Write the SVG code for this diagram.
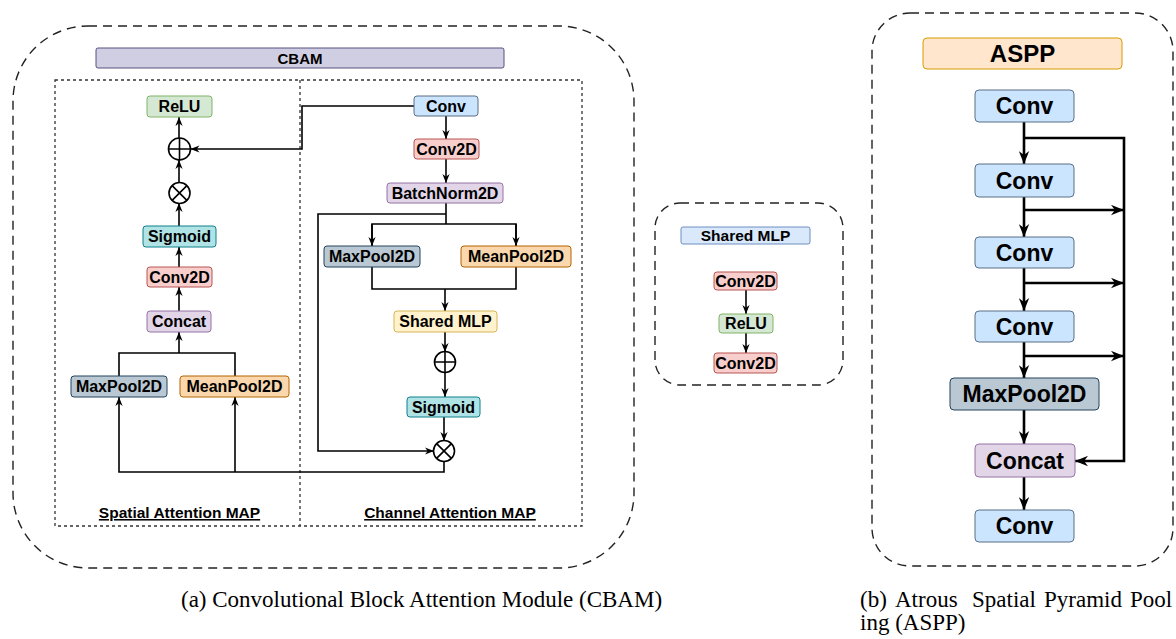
<svg xmlns="http://www.w3.org/2000/svg" width="1176" height="639" viewBox="0 0 1176 639">
<style>
  .t{font-family:'Liberation Sans',Arial,sans-serif;font-weight:bold;fill:#000;text-anchor:middle}
  .n{font-size:16px}
  .b{font-size:23px}
  .cap{font-family:'Liberation Serif','Times New Roman',serif;font-size:23px;fill:#000}
  .ln{fill:none;stroke:#000;stroke-width:1.6}
  .lnb{fill:none;stroke:#000;stroke-width:2.6}
  .dash{fill:none;stroke:#222;stroke-width:1.4;stroke-dasharray:9 6}
  .dot{fill:none;stroke:#333;stroke-width:1.3;stroke-dasharray:3 3}
  .blue{fill:#cce5ff;stroke:#5b6f86;stroke-width:1}
  .red{fill:#f8cecc;stroke:#b85450;stroke-width:1}
  .purple{fill:#e1d5e7;stroke:#9673a6;stroke-width:1}
  .green{fill:#d5e8d4;stroke:#82b366;stroke-width:1}
  .cyan{fill:#b0e3e6;stroke:#0e8088;stroke-width:1}
  .slate{fill:#bac8d3;stroke:#23445d;stroke-width:1}
  .orange{fill:#fad7ac;stroke:#b46504;stroke-width:1}
  .yellow{fill:#fff2cc;stroke:#d6b656;stroke-width:1}
  .lblue{fill:#dae8fc;stroke:#6c8ebf;stroke-width:1}
  .peach{fill:#ffe6cc;stroke:#d79b00;stroke-width:1}
  .lav{fill:#d0cee2;stroke:#56517e;stroke-width:1}
  .op{fill:#fff;stroke:#000;stroke-width:1.6}
</style>
<defs>
  <marker id="a" viewBox="0 0 10 8" refX="10" refY="4" markerWidth="9" markerHeight="7.2" markerUnits="userSpaceOnUse" orient="auto">
    <path d="M0,0 L10,4 L0,8 L3,4 Z" fill="#000"/>
  </marker>
  <marker id="A" viewBox="0 0 10 8" refX="10" refY="4" markerWidth="13" markerHeight="11" markerUnits="userSpaceOnUse" orient="auto">
    <path d="M0,0 L10,4 L0,8 L3,4 Z" fill="#000"/>
  </marker>
</defs>

<!-- containers -->
<g id="cbam-frame">
  <rect x="13" y="26" width="621" height="542" rx="75" class="dash"/>
  <rect x="96" y="48" width="408" height="20" rx="2" class="lav"/>
  <text x="300" y="63.5" class="t" font-size="15">CBAM</text>
  <rect x="55" y="80" width="527" height="446" class="dot"/>
  <line x1="300" y1="80" x2="300" y2="526" class="dot"/>
  <text x="179.5" y="518" class="t" font-size="15.5" text-decoration="underline">Spatial Attention MAP</text>
  <text x="450" y="518" class="t" font-size="15.5" text-decoration="underline">Channel Attention MAP</text>
</g>

<!-- connectors -->
<g id="connectors">
  <!-- spatial column -->
  <path d="M119,376 V353 H235 V376" class="ln"/>
  <path d="M179,353 V332" class="ln" marker-end="url(#a)"/>
  <path d="M179,311 V287" class="ln" marker-end="url(#a)"/>
  <path d="M179,267 V247" class="ln" marker-end="url(#a)"/>
  <path d="M179,226 V203" class="ln" marker-end="url(#a)"/>
  <path d="M179,182 V160" class="ln" marker-end="url(#a)"/>
  <path d="M179,138 V117" class="ln" marker-end="url(#a)"/>
  <path d="M414,106 H302 V149 H190.5" class="ln" marker-end="url(#a)"/>
  <!-- channel column -->
  <path d="M446,116 V139" class="ln" marker-end="url(#a)"/>
  <path d="M446,159 V183" class="ln" marker-end="url(#a)"/>
  <path d="M446,203 V224" class="ln"/>
  <path d="M372,246 V224 H516 V246" class="ln"/>
  <path d="M372,224 V246" class="ln" marker-end="url(#a)"/>
  <path d="M516,224 V246" class="ln" marker-end="url(#a)"/>
  <path d="M446,214 H318 V451 H434" class="ln" marker-end="url(#a)"/>
  <path d="M372,267 V289 H516 V267" class="ln"/>
  <path d="M445,289 V311" class="ln" marker-end="url(#a)"/>
  <path d="M445,332 V352" class="ln" marker-end="url(#a)"/>
  <path d="M445,372 V397" class="ln" marker-end="url(#a)"/>
  <path d="M444,417 V441" class="ln" marker-end="url(#a)"/>
  <path d="M444,461 V472 H119 V397" class="ln" marker-end="url(#a)"/>
  <path d="M235,472 V397" class="ln" marker-end="url(#a)"/>
  <!-- shared MLP panel -->
  <path d="M746,290 V314" class="ln" marker-end="url(#a)"/>
  <path d="M746,333 V353" class="ln" marker-end="url(#a)"/>
  <!-- ASPP -->
  <path d="M1024,122 V164" class="lnb" marker-end="url(#A)"/>
  <path d="M1024,197 V237" class="lnb" marker-end="url(#A)"/>
  <path d="M1024,268 V311" class="lnb" marker-end="url(#A)"/>
  <path d="M1024,342 V378" class="lnb" marker-end="url(#A)"/>
  <path d="M1024,410 V444" class="lnb" marker-end="url(#A)"/>
  <path d="M1024,477 V510" class="lnb" marker-end="url(#A)"/>
  <path d="M1024,138 H1124 V461 H1075" class="lnb" marker-end="url(#A)"/>
  <path d="M1024,210 H1124" class="lnb" marker-end="url(#A)"/>
  <path d="M1024,283 H1124" class="lnb" marker-end="url(#A)"/>
  <path d="M1024,356 H1124" class="lnb" marker-end="url(#A)"/>
</g>

<!-- spatial attention nodes -->
<g id="relu"><rect x="147" y="96" width="65" height="21" rx="3" class="green"/><text x="179.5" y="112" class="t n">ReLU</text></g>
<g id="add1"><circle cx="179.5" cy="149" r="11" class="op"/><path d="M168.5,149 H190.5 M179.5,138 V160" class="ln"/></g>
<g id="mul1"><circle cx="179.5" cy="193" r="10.5" class="op"/><path d="M172.1,185.6 L186.9,200.4 M186.9,185.6 L172.1,200.4" class="ln"/></g>
<g id="sigmoid1"><rect x="143" y="226" width="73" height="21" rx="3" class="cyan"/><text x="179.5" y="242" class="t n">Sigmoid</text></g>
<g id="conv2d1"><rect x="147" y="267" width="65" height="20" rx="3" class="red"/><text x="179.5" y="282.5" class="t n">Conv2D</text></g>
<g id="concat1"><rect x="147" y="311" width="64" height="21" rx="3" class="purple"/><text x="179" y="327" class="t n">Concat</text></g>
<g id="maxpool1"><rect x="71" y="376" width="96" height="21" rx="3" class="slate"/><text x="119" y="392" class="t n">MaxPool2D</text></g>
<g id="meanpool1"><rect x="180" y="376" width="109" height="21" rx="3" class="orange"/><text x="234.5" y="392" class="t n">MeanPool2D</text></g>

<!-- channel attention nodes -->
<g id="conv1"><rect x="414" y="96" width="64" height="20" rx="3" class="blue"/><text x="446" y="111.5" class="t n">Conv</text></g>
<g id="conv2d2"><rect x="414" y="139" width="65" height="20" rx="3" class="red"/><text x="446.5" y="154.5" class="t n">Conv2D</text></g>
<g id="batchnorm"><rect x="387" y="183" width="116" height="20" rx="3" class="purple"/><text x="445" y="198.5" class="t n">BatchNorm2D</text></g>
<g id="maxpool2"><rect x="324" y="246" width="96" height="21" rx="3" class="slate"/><text x="372" y="262" class="t n">MaxPool2D</text></g>
<g id="meanpool2"><rect x="461" y="246" width="110" height="21" rx="3" class="orange"/><text x="516" y="262" class="t n">MeanPool2D</text></g>
<g id="sharedmlp"><rect x="394" y="311" width="103" height="21" rx="3" class="yellow"/><text x="445.5" y="327" class="t n">Shared MLP</text></g>
<g id="add2"><circle cx="445" cy="362" r="10.5" class="op"/><path d="M434.5,362 H455.5 M445,351.5 V372.5" class="ln"/></g>
<g id="sigmoid2"><rect x="407" y="397" width="73" height="20" rx="3" class="cyan"/><text x="443.5" y="412.5" class="t n">Sigmoid</text></g>
<g id="mul2"><circle cx="444" cy="451" r="10.5" class="op"/><path d="M436.6,443.6 L451.4,458.4 M451.4,443.6 L436.6,458.4" class="ln"/></g>

<!-- shared MLP panel -->
<g id="mlp-panel">
  <rect x="655" y="203" width="188" height="182" rx="25" class="dash"/>
  <rect x="681" y="227" width="129" height="17" rx="2" class="lblue"/>
  <text x="745.5" y="241" class="t" font-size="15.5">Shared MLP</text>
</g>
<g id="mlp-conv2d-a"><rect x="714" y="272" width="63" height="18" rx="3" class="red"/><text x="745.5" y="286.5" class="t n">Conv2D</text></g>
<g id="mlp-relu"><rect x="719" y="314" width="54" height="19" rx="3" class="green"/><text x="746" y="329" class="t n">ReLU</text></g>
<g id="mlp-conv2d-b"><rect x="714" y="353" width="63" height="20" rx="3" class="red"/><text x="745.5" y="368.5" class="t n">Conv2D</text></g>

<!-- ASPP panel -->
<g id="aspp-panel">
  <rect x="872" y="13" width="301" height="553" rx="38" class="dash"/>
  <rect x="923" y="38" width="199" height="31" rx="4" class="peach"/>
  <text x="1022.5" y="61.5" class="t" font-size="24">ASPP</text>
</g>
<g id="aspp-conv1"><rect x="975" y="90" width="99" height="32" rx="4" class="blue"/><text x="1024.5" y="114" class="t b">Conv</text></g>
<g id="aspp-conv2"><rect x="975" y="164" width="99" height="33" rx="4" class="blue"/><text x="1024.5" y="188.5" class="t b">Conv</text></g>
<g id="aspp-conv3"><rect x="975" y="237" width="99" height="31" rx="4" class="blue"/><text x="1024.5" y="260.5" class="t b">Conv</text></g>
<g id="aspp-conv4"><rect x="975" y="311" width="99" height="31" rx="4" class="blue"/><text x="1024.5" y="334.5" class="t b">Conv</text></g>
<g id="aspp-maxpool"><rect x="950" y="378" width="149" height="32" rx="4" class="slate"/><text x="1024.5" y="402" class="t b">MaxPool2D</text></g>
<g id="aspp-concat"><rect x="975" y="444" width="100" height="33" rx="4" class="purple"/><text x="1025" y="468.5" class="t b">Concat</text></g>
<g id="aspp-conv5"><rect x="975" y="510" width="99" height="32" rx="4" class="blue"/><text x="1024.5" y="534" class="t b">Conv</text></g>

<!-- captions -->
<text x="181" y="607" class="cap">(a)  Convolutional Block Attention Module (CBAM)</text>
<text y="607" class="cap"><tspan x="860">(b)</tspan><tspan x="895">Atrous</tspan><tspan x="972">Spatial</tspan><tspan x="1044">Pyramid</tspan><tspan x="1130">Pool</tspan></text>
<text x="860" y="630" class="cap">ing (ASPP)</text>
</svg>
